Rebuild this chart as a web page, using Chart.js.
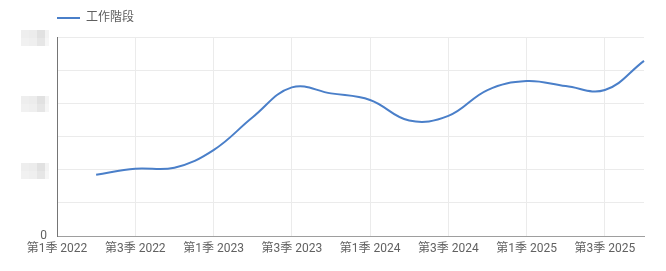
<!DOCTYPE html>
<html>
<head>
<meta charset="utf-8">
<script src="https://cdn.jsdelivr.net/npm/chart.js@4/dist/chart.umd.min.js"></script>
<style>
  html, body { margin: 0; padding: 0; background: #fff; }
  #wrap { width: 666px; height: 271px; }
</style>
</head>
<body>
<div id="wrap"><canvas id="c" width="666" height="271"></canvas></div>
<script>
// ---- data ----
const quarterLabels = [
  '第1季 2022','第2季 2022','第3季 2022','第4季 2022',
  '第1季 2023','第2季 2023','第3季 2023','第4季 2023',
  '第1季 2024','第2季 2024','第3季 2024','第4季 2024',
  '第1季 2025','第2季 2025','第3季 2025','第4季 2025'
];
const sessions = [null, 1.85, 2.03, 2.06, 2.59, 3.58, 4.48, 4.30, 4.10, 3.48, 3.62, 4.40, 4.67, 4.52, 4.40, 5.28];
const seriesName = '工作階段';
const yTicksShown = [0];          // readable tick labels
const yTicksHidden = [2, 4, 6];   // tick labels that are blurred in the reference

const FONT = "Roboto, 'Noto Sans CJK TC', 'Noto Sans', sans-serif";
const TEXT = '#616161';
const GRID = '#ebebeb';
const BLUE = '#4a7fc9';

const legendShift = {
  id: 'legendShift',
  afterInit(chart) {
    const lg = chart.legend;
    const fit = lg.fit;
    lg.fit = function () { fit.call(this); this.height = 35; };
  },
  afterLayout(chart) {
    chart.legend.left = 47;
  }
};

const blurBoxes = {
  id: 'blurBoxes',
  afterDraw(chart) {
    const ctx = chart.ctx;
    const y = chart.scales.y;
    const shades = [
      ['#eeeeee', '#ececec', '#e1e1e1', '#f3f3f3'],
      ['#f1f1f1', '#efefef', '#e6e6e6', '#f6f6f6']
    ];
    const colW = [8, 8, 8, 4];
    ctx.save();
    yTicksHidden.forEach(v => {
      const cy = y.getPixelForValue(v);
      let top = Math.round(cy - 7);
      for (let r = 0; r < 2; r++) {
        let x = 21;
        for (let c = 0; c < 4; c++) {
          ctx.fillStyle = shades[r][c];
          ctx.fillRect(x, top + r * 8, colW[c], 8);
          x += colW[c];
        }
      }
    });
    ctx.restore();
  }
};

new Chart(document.getElementById('c'), {
  type: 'line',
  data: {
    labels: quarterLabels,
    datasets: [{
      label: seriesName,
      data: sessions,
      borderColor: BLUE,
      backgroundColor: BLUE,
      borderWidth: 2,
      pointRadius: 0,
      pointHoverRadius: 0,
      tension: 0.4,
      fill: false,
      spanGaps: false
    }]
  },
  options: {
    responsive: false,
    animation: false,
    maintainAspectRatio: false,
    layout: { padding: { top: 2, right: 22, bottom: 0, left: 0 } },
    plugins: {
      legend: {
        display: true,
        position: 'top',
        align: 'start',
        labels: {
          usePointStyle: true,
          pointStyle: 'line',
          pointStyleWidth: 23,
          boxWidth: 23,
          boxHeight: 12,
          padding: 10,
          color: '#5f5f5f',
          font: { family: FONT, size: 12 }
        }
      },
      tooltip: { enabled: false }
    },
    scales: {
      x: {
        type: 'category',
        offset: false,
        border: { display: true, color: '#9e9e9e', width: 1 },
        grid: {
          drawTicks: false,
          color: ctx => (ctx.index % 2 === 0 ? GRID : 'rgba(0,0,0,0)'),
          lineWidth: 1
        },
        ticks: {
          autoSkip: false,
          maxRotation: 0,
          padding: 6,
          color: TEXT,
          font: { family: FONT, size: 12 },
          callback: function (val, i) { return i % 2 === 0 ? this.getLabelForValue(val) : ''; }
        },
        afterFit(scale) { scale.height = 35; }
      },
      y: {
        min: 0,
        max: 6,
        border: { display: true, color: '#757575', width: 1 },
        grid: { drawTicks: false, color: GRID, lineWidth: 1 },
        ticks: {
          stepSize: 1,
          padding: 10,
          color: TEXT,
          font: { family: FONT, size: 12 },
          callback: v => (yTicksShown.includes(v) ? String(v) : '')
        },
        afterFit(scale) { scale.width = 57; }
      }
    }
  },
  plugins: [legendShift, blurBoxes]
});
</script>
</body>
</html>
